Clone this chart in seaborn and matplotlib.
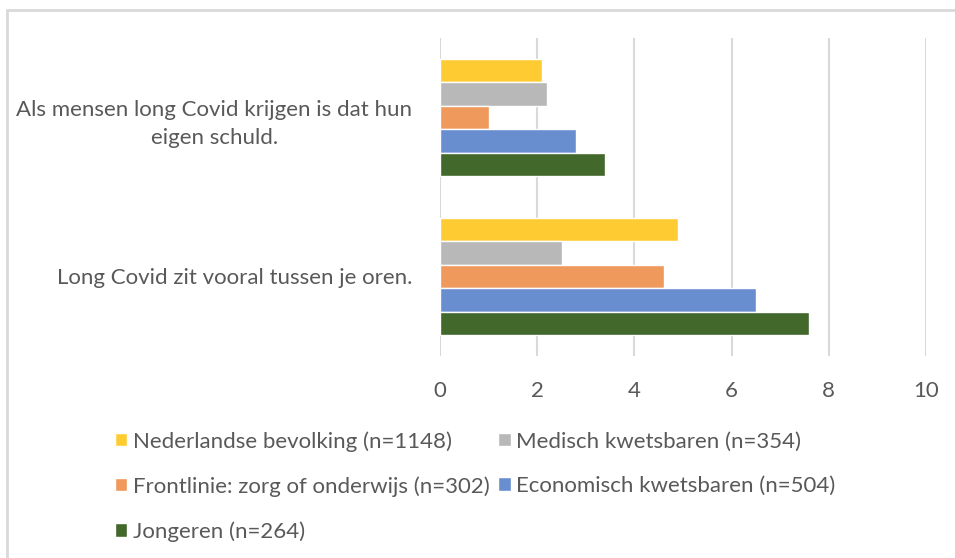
import matplotlib
matplotlib.use("Agg")
import matplotlib.pyplot as plt
import pandas as pd
import seaborn as sns
from matplotlib.lines import Line2D

categories = [
    "Als mensen long Covid krijgen is dat hun eigen schuld.",
    "Long Covid zit vooral tussen je oren.",
]
category_labels = [
    "Als mensen long Covid krijgen is dat hun\neigen schuld.",
    "Long Covid zit vooral tussen je oren.",
]
groups = [
    "Nederlandse bevolking (n=1148)",
    "Medisch kwetsbaren (n=354)",
    "Frontlinie: zorg of onderwijs (n=302)",
    "Economisch kwetsbaren (n=504)",
    "Jongeren (n=264)",
]
nederlandse = [2.1, 4.9]
medisch = [2.2, 2.5]
frontlinie = [1.0, 4.6]
economisch = [2.8, 6.5]
jongeren = [3.4, 7.6]
colors = ["#FFCB33", "#B8B8B8", "#F0995C", "#698ED0", "#43682B"]

df = pd.DataFrame(
    [
        {"stelling": cat, "groep": grp, "score": val}
        for grp, vals in zip(groups, [nederlandse, medisch, frontlinie, economisch, jongeren])
        for cat, val in zip(categories, vals)
    ]
)

sns.set_style("white")
plt.rcParams["font.family"] = ["Lato", "DejaVu Sans"]
text_color = "#595959"
fs = 16

fig = plt.figure(figsize=(9.55, 5.58), dpi=100)
ax = fig.add_axes([440 / 955, 1 - 356 / 558, 486 / 955, 318 / 558])

sns.barplot(
    data=df,
    x="score",
    y="stelling",
    hue="groep",
    order=categories,
    hue_order=groups,
    palette=colors,
    orient="h",
    width=0.74,
    saturation=1,
    ax=ax,
)

ax.set_xlim(0, 10)
ax.set_xticks(range(0, 11, 2))
ax.set_xlabel("")
ax.set_ylabel("")
ax.set_yticks(range(len(categories)))
ax.set_yticklabels(category_labels, multialignment="center", linespacing=1.55)
ax.tick_params(axis="x", length=0, pad=18, labelsize=fs, labelcolor=text_color)
ax.tick_params(axis="y", length=0, pad=20, labelsize=fs, labelcolor=text_color)
ax.xaxis.grid(True, color="#D9D9D9", linewidth=1.5)
ax.set_axisbelow(True)
for spine in ax.spines.values():
    spine.set_visible(False)

handles, labels = ax.get_legend_handles_labels()
ax.get_legend().remove()
order = [0, 2, 4, 1, 3]
fig.legend(
    [handles[i] for i in order],
    [labels[i] for i in order],
    ncol=2,
    loc="upper left",
    bbox_to_anchor=(115 / 955, 1 - 431 / 558),
    frameon=False,
    fontsize=fs,
    labelcolor=text_color,
    handlelength=0.55,
    handleheight=0.55,
    handletextpad=0.25,
    columnspacing=0.4,
    labelspacing=1.1,
    borderpad=0,
    borderaxespad=0,
)

border = "#D9D9D9"
fig.add_artist(Line2D([7 / 955, 1], [1 - 10 / 558] * 2, color=border, linewidth=2))
fig.add_artist(Line2D([7 / 955] * 2, [0, 1 - 10 / 558], color=border, linewidth=2))

fig.savefig("out.png", dpi=100)
